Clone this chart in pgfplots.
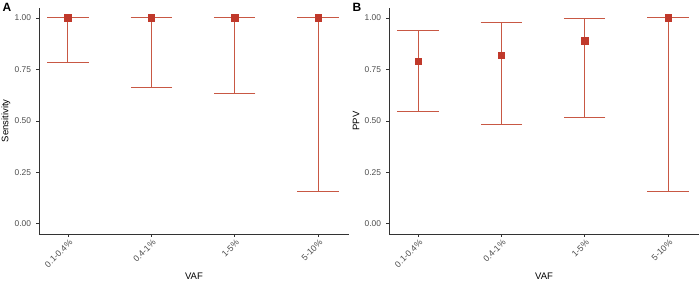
\documentclass[border=0pt]{standalone}
\usepackage{pgfplots}
\pgfplotsset{compat=1.18}
\usepackage{pgfplotstable}
\usepackage{fontspec}
\setmainfont{Liberation Sans}
\definecolor{ebar}{RGB}{200,88,68}
\definecolor{pt}{RGB}{192,57,43}
\definecolor{ticklab}{RGB}{77,77,77}
\definecolor{tickcol}{RGB}{51,51,51}
\pgfplotstableread{
x y lo hi
1 1.000 0.785 1.000
2 1.000 0.663 1.000
3 1.000 0.631 1.000
4 1.000 0.159 1.000
}\sens
\pgfplotstableread{
x y lo hi
1 0.790 0.545 0.940
2 0.819 0.482 0.977
3 0.890 0.518 0.998
4 1.000 0.159 1.000
}\ppv
\pgfplotsset{
  panel/.style={
    scale only axis, width=310pt, height=226.3pt,
    xmin=0.652, xmax=4.372, ymin=-0.05, ymax=1.05,
    axis x line*=bottom, axis y line*=left,
    axis line style={tickcol, line width=0.8pt},
    xtick={1,2,3,4},
    xticklabels={0.1-0.4\%,0.4-1\%,1-5\%,5-10\%},
    ytick={0,0.25,0.5,0.75,1},
    yticklabels={0.00,0.25,0.50,0.75,1.00},
    tick align=outside, major tick length=2.75pt,
    tick style={tickcol, line width=0.6pt},
    ticklabel style={font=\fontsize{8.4}{10}\selectfont, text=ticklab},
    xticklabel style={rotate=45, anchor=north east, inner sep=1pt, yshift=-1pt, font=\fontsize{8.7}{10}\selectfont},
    yticklabel style={inner sep=1pt, xshift=-4pt},
    label style={font=\fontsize{9.5}{11}\selectfont},
    xlabel style={at={([yshift=-42pt]axis description cs:0.5,0)}, anchor=center},
    ylabel style={at={([xshift=-33pt]axis description cs:0,0.5)}, anchor=center},
    xlabel={VAF},
    clip=false,
  },
  ebars/.style={
    only marks, mark=square*, mark size=3.3pt,
    mark options={fill=pt, draw=pt},
    error bars/.cd, y dir=both, y explicit,
    error bar style={ebar, line width=1pt},
    error mark options={ebar, line width=1pt, mark size=20.8pt, rotate=90},
  },
}
\begin{document}
\begin{tikzpicture}[x=1pt,y=1pt]
\useasboundingbox (0,0) rectangle (699,284);
\begin{axis}[panel, at={(39pt,50pt)}, anchor=south west, ylabel={Sensitivity}]
\addplot+[ebars] table[x=x, y=y, y error plus expr=\thisrow{hi}-\thisrow{y}, y error minus expr=\thisrow{y}-\thisrow{lo}] {\sens};
\end{axis}
\begin{axis}[panel, at={(389pt,50pt)}, anchor=south west, ylabel={PPV}]
\addplot+[ebars] table[x=x, y=y, y error plus expr=\thisrow{hi}-\thisrow{y}, y error minus expr=\thisrow{y}-\thisrow{lo}] {\ppv};
\end{axis}
\node[font=\fontsize{12}{14}\selectfont\bfseries] at (7,277) {A};
\node[font=\fontsize{12}{14}\selectfont\bfseries] at (357,277) {B};
\end{tikzpicture}
\end{document}
